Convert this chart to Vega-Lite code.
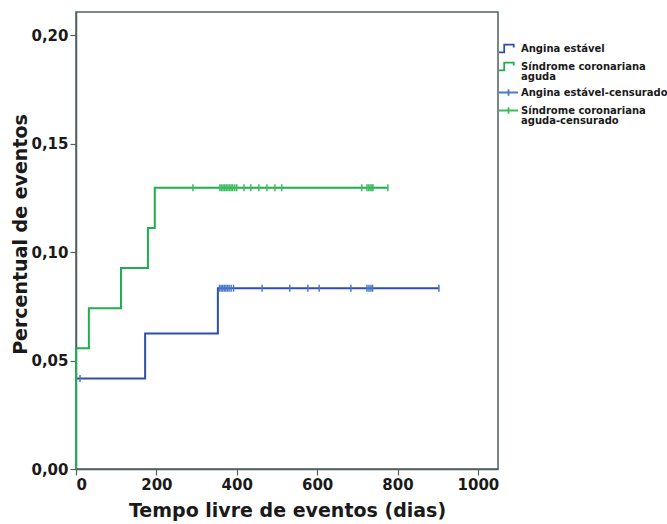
{
  "$schema": "https://vega.github.io/schema/vega-lite/v6.json",
  "width": 422,
  "height": 457,
  "autosize": "none",
  "padding": {"left": 76, "top": 12, "right": 169, "bottom": 55},
  "background": "white",
  "config": {
    "font": "DejaVu Sans",
    "view": {"stroke": "#4f6060", "strokeWidth": 1.5},
    "axis": {"grid": false, "labelFont": "DejaVu Sans", "labelFontWeight": "bold", "labelFontSize": 15, "labelColor": "#1a1a1a", "titleFont": "DejaVu Sans", "titleFontWeight": "bold", "titleFontSize": 19, "titleColor": "#1a1a1a", "domainColor": "#4f6060", "domainWidth": 1.5, "tickColor": "#4f6060", "tickWidth": 1.2, "tickSize": 6}
  },
  "datasets": {
    "curves": [
      {"serie": "Angina estável", "t": 0, "p": 0},
      {"serie": "Angina estável", "t": 0, "p": 0.0417},
      {"serie": "Angina estável", "t": 172, "p": 0.0625},
      {"serie": "Angina estável", "t": 353, "p": 0.0833},
      {"serie": "Angina estável", "t": 903, "p": 0.0833},
      {"serie": "Síndrome coronariana aguda", "t": 0, "p": 0},
      {"serie": "Síndrome coronariana aguda", "t": 0, "p": 0.0556},
      {"serie": "Síndrome coronariana aguda", "t": 32, "p": 0.0741},
      {"serie": "Síndrome coronariana aguda", "t": 112, "p": 0.0926},
      {"serie": "Síndrome coronariana aguda", "t": 179, "p": 0.1111},
      {"serie": "Síndrome coronariana aguda", "t": 196, "p": 0.1296},
      {"serie": "Síndrome coronariana aguda", "t": 776, "p": 0.1296}
    ],
    "censored": [
      {"serie": "Angina estável-censurado", "t": 10, "p": 0.0417},
      {"serie": "Angina estável-censurado", "t": 357, "p": 0.0833},
      {"serie": "Angina estável-censurado", "t": 361, "p": 0.0833},
      {"serie": "Angina estável-censurado", "t": 365, "p": 0.0833},
      {"serie": "Angina estável-censurado", "t": 369, "p": 0.0833},
      {"serie": "Angina estável-censurado", "t": 373, "p": 0.0833},
      {"serie": "Angina estável-censurado", "t": 377, "p": 0.0833},
      {"serie": "Angina estável-censurado", "t": 381, "p": 0.0833},
      {"serie": "Angina estável-censurado", "t": 386, "p": 0.0833},
      {"serie": "Angina estável-censurado", "t": 392, "p": 0.0833},
      {"serie": "Angina estável-censurado", "t": 463, "p": 0.0833},
      {"serie": "Angina estável-censurado", "t": 532, "p": 0.0833},
      {"serie": "Angina estável-censurado", "t": 577, "p": 0.0833},
      {"serie": "Angina estável-censurado", "t": 605, "p": 0.0833},
      {"serie": "Angina estável-censurado", "t": 684, "p": 0.0833},
      {"serie": "Angina estável-censurado", "t": 724, "p": 0.0833},
      {"serie": "Angina estável-censurado", "t": 729, "p": 0.0833},
      {"serie": "Angina estável-censurado", "t": 734, "p": 0.0833},
      {"serie": "Angina estável-censurado", "t": 738, "p": 0.0833},
      {"serie": "Angina estável-censurado", "t": 903, "p": 0.0833},
      {"serie": "Síndrome coronariana aguda-censurado", "t": 291, "p": 0.1296},
      {"serie": "Síndrome coronariana aguda-censurado", "t": 358, "p": 0.1296},
      {"serie": "Síndrome coronariana aguda-censurado", "t": 362, "p": 0.1296},
      {"serie": "Síndrome coronariana aguda-censurado", "t": 366, "p": 0.1296},
      {"serie": "Síndrome coronariana aguda-censurado", "t": 370, "p": 0.1296},
      {"serie": "Síndrome coronariana aguda-censurado", "t": 374, "p": 0.1296},
      {"serie": "Síndrome coronariana aguda-censurado", "t": 378, "p": 0.1296},
      {"serie": "Síndrome coronariana aguda-censurado", "t": 382, "p": 0.1296},
      {"serie": "Síndrome coronariana aguda-censurado", "t": 386, "p": 0.1296},
      {"serie": "Síndrome coronariana aguda-censurado", "t": 390, "p": 0.1296},
      {"serie": "Síndrome coronariana aguda-censurado", "t": 395, "p": 0.1296},
      {"serie": "Síndrome coronariana aguda-censurado", "t": 400, "p": 0.1296},
      {"serie": "Síndrome coronariana aguda-censurado", "t": 418, "p": 0.1296},
      {"serie": "Síndrome coronariana aguda-censurado", "t": 435, "p": 0.1296},
      {"serie": "Síndrome coronariana aguda-censurado", "t": 455, "p": 0.1296},
      {"serie": "Síndrome coronariana aguda-censurado", "t": 475, "p": 0.1296},
      {"serie": "Síndrome coronariana aguda-censurado", "t": 495, "p": 0.1296},
      {"serie": "Síndrome coronariana aguda-censurado", "t": 512, "p": 0.1296},
      {"serie": "Síndrome coronariana aguda-censurado", "t": 711, "p": 0.1296},
      {"serie": "Síndrome coronariana aguda-censurado", "t": 724, "p": 0.1296},
      {"serie": "Síndrome coronariana aguda-censurado", "t": 728, "p": 0.1296},
      {"serie": "Síndrome coronariana aguda-censurado", "t": 732, "p": 0.1296},
      {"serie": "Síndrome coronariana aguda-censurado", "t": 736, "p": 0.1296},
      {"serie": "Síndrome coronariana aguda-censurado", "t": 739, "p": 0.1296},
      {"serie": "Síndrome coronariana aguda-censurado", "t": 776, "p": 0.1296}
    ]
  },
  "encoding": {
    "x": {"field": "t", "type": "quantitative", "scale": {"domain": [0, 1050], "nice": false}, "axis": {"values": [0, 200, 400, 600, 800, 1000], "format": "d", "title": "Tempo livre de eventos (dias)", "labelPadding": 2, "titlePadding": 9}},
    "y": {"field": "p", "type": "quantitative", "scale": {"domain": [0, 0.2106], "nice": false}, "axis": {"values": [0, 0.05, 0.1, 0.15, 0.2], "labelExpr": "replace(format(datum.value, '.2f'), '.', ',')", "title": "Percentual de eventos", "labelPadding": 2, "titlePadding": 0, "titleY": 222}},
    "color": {
      "field": "serie", "type": "nominal",
      "scale": {"domain": ["Angina estável", "Síndrome coronariana aguda", "Angina estável-censurado", "Síndrome coronariana aguda-censurado"], "range": ["#2f4faa", "#1db04c", "#4b78cc", "#3dbb5f"]},
      "legend": {
        "title": null, "orient": "none", "legendX": 422, "legendY": 26,
        "labelFont": "DejaVu Sans", "labelFontWeight": "bold", "labelFontSize": 10, "labelColor": "#1a1a1a",
        "labelBaseline": "middle",
        "labelLimit": 300, "rowPadding": 0, "symbolOffset": 0, "labelOffset": 2,
        "labelExpr": "datum.label == 'Síndrome coronariana aguda' ? ['Síndrome coronariana', 'aguda'] : datum.label == 'Síndrome coronariana aguda-censurado' ? ['Síndrome coronariana', 'aguda-censurado'] : datum.label",
        "encode": {
          "labels": {"update": {"lineHeight": {"value": 10.5}}},
          "symbols": {"update": {
            "shape": {"signal": "indexof(datum.value, 'censurado') >= 0 ? 'M-1,0H1M0,-0.35V0.35' : 'M-1,0.4H-0.45V-0.4H0.55V-0.1'"},
            "size": {"value": 361}, "strokeWidth": {"value": 1.8}, "fill": {"value": "transparent"}, "opacity": {"value": 1}
          }}
        }
      }
    }
  },
  "layer": [
    {"data": {"name": "curves"}, "mark": {"type": "line", "interpolate": "step-after", "strokeWidth": 2}},
    {"data": {"name": "censored"}, "mark": {"type": "point", "shape": "M0,-1V1", "size": 49, "filled": false, "strokeWidth": 1.5, "opacity": 1}}
  ]
}
